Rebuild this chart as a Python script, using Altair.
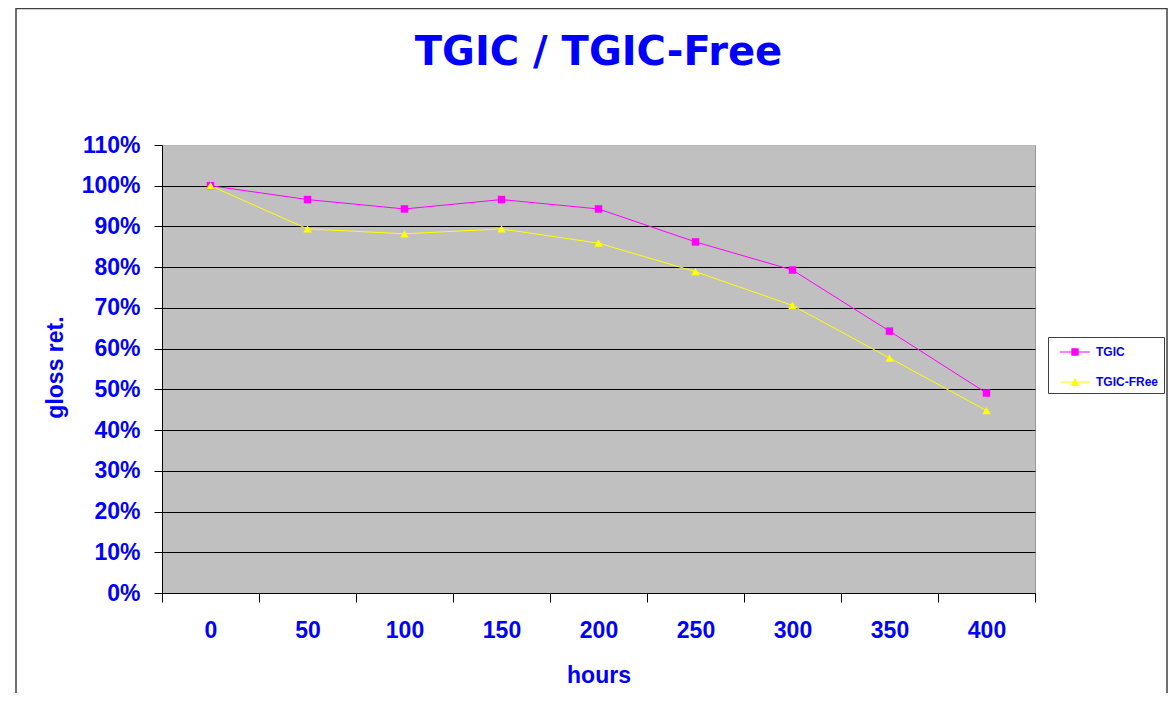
import altair as alt
import pandas as pd

hours = ["0", "50", "100", "150", "200", "250", "300", "350", "400"]
tgic = [1.00, 0.966, 0.943, 0.966, 0.943, 0.862, 0.793, 0.643, 0.491]
tgic_free = [1.00, 0.894, 0.882, 0.894, 0.859, 0.789, 0.706, 0.577, 0.448]
series_names = ["TGIC", "TGIC-FRee"]
series_colors = ["#FF00FF", "#FFFF00"]
y_ticks = [0, 0.1, 0.2, 0.3, 0.4, 0.5, 0.6, 0.7, 0.8, 0.9, 1.0, 1.1]

rows = []
for h, a, b in zip(hours, tgic, tgic_free):
    rows.append({"hours": h, "series": series_names[0], "value": a})
    rows.append({"hours": h, "series": series_names[1], "value": b})
df = pd.DataFrame(rows)

FONT = "Liberation Sans"
BLUE = "#0000FF"

x_enc = alt.X(
    "hours:O",
    sort=hours,
    scale=alt.Scale(paddingInner=0, paddingOuter=0),
    axis=alt.Axis(
        title="hours",
        titleFont=FONT, titleFontSize=23, titleFontWeight="bold", titleColor=BLUE,
        titleY=89, titleBaseline="alphabetic", titleX=436.5, titleAlign="center",
        labelFont=FONT, labelFontSize=23, labelFontWeight="bold", labelColor=BLUE,
        labelAngle=0, labelPadding=17, tickSize=9, tickColor="#000000",
        domainColor="#000000", tickBand="extent", grid=False,
    ),
)
y_enc = alt.Y(
    "value:Q",
    scale=alt.Scale(domain=[0, 1.1], nice=False),
    axis=alt.Axis(
        title="gloss ret.", values=y_ticks, format=".0%",
        titleFont=FONT, titleFontSize=23, titleFontWeight="bold", titleColor=BLUE,
        titleAngle=-90, titleX=-100, titleY=222, titleBaseline="alphabetic", titleAlign="center",
        labelFont=FONT, labelFontSize=23, labelFontWeight="bold", labelColor=BLUE,
        labelPadding=14, tickSize=8, tickColor="#000000", domainColor="#000000",
        grid=True,
        gridColor={"condition": {"test": "datum.value > 1.05", "value": "#b8b8b8"}, "value": "#000000"},
        gridWidth=1,
    ),
)

# legend symbols: a thin bar (the line) plus the marker, as filled paths
legend_paths = [
    "M-1.5,-0.05H1.5V0.05H-1.5ZM-0.37,-0.37H0.37V0.37H-0.37Z",
    "M-1.5,-0.05H1.5V0.05H-1.5ZM0,-0.42L0.45,0.4L-0.45,0.4Z",
]
marker_shapes = ["square", "triangle-up"]
marker_sizes = [56, 70]

layers = []
for name, col in zip(series_names, series_colors):
    layers.append(
        alt.Chart(df).transform_filter(alt.datum.series == name)
        .mark_line(strokeWidth=1, color=col)
        .encode(x=x_enc, y=y_enc)
    )
for name, col, shp, sz in zip(series_names, series_colors, marker_shapes, marker_sizes):
    layers.append(
        alt.Chart(df).transform_filter(alt.datum.series == name)
        .mark_point(shape=shp, filled=True, opacity=1, size=sz, color=col)
        .encode(x=x_enc, y=y_enc)
    )

leg = dict(
    title=None, orient="none", legendX=886, legendY=192,
    fillColor="#FFFFFF", strokeColor="#404040", padding=5,
    symbolSize=400, symbolOffset=12, labelOffset=11, rowPadding=14,
    symbolOpacity=1, symbolStrokeWidth=0,
    labelFont=FONT, labelFontSize=12, labelFontWeight="bold", labelColor=BLUE,
)

legend_layer = alt.Chart(df).mark_point(filled=True, opacity=0).encode(
    x=x_enc, y=y_enc,
    color=alt.Color("series:N", scale=alt.Scale(domain=series_names, range=series_colors),
                    legend=alt.Legend(**leg)),
    shape=alt.Shape("series:N", scale=alt.Scale(domain=series_names, range=legend_paths),
                    legend=alt.Legend(**leg)),
)

frame = alt.Chart(pd.DataFrame({"k": [0]})).mark_rect(
    fill="#FFFFFF", fillOpacity=0, stroke="#404040", strokeWidth=1.5
).encode(x=alt.value(-146), x2=alt.value(1005), y=alt.value(-136.5), y2=alt.value(600))

chart = alt.layer(frame, *layers, legend_layer).properties(
    width=873, height=448,
    background="#FFFFFF",
    title=alt.TitleParams(
        "TGIC / TGIC-Free", font="DejaVu Sans", fontSize=40, fontWeight="bold", color=BLUE,
        anchor="middle", frame="group", offset=-65,
    ),
    autosize=alt.AutoSizeParams(type="none"),
    padding={"left": 154, "top": 137, "right": 133, "bottom": 100},
).configure_view(
    fill="#C0C0C0", stroke="#9a9a9a", strokeWidth=1
)

chart.save("out.html", embed_options={"renderer": "svg", "actions": False})
